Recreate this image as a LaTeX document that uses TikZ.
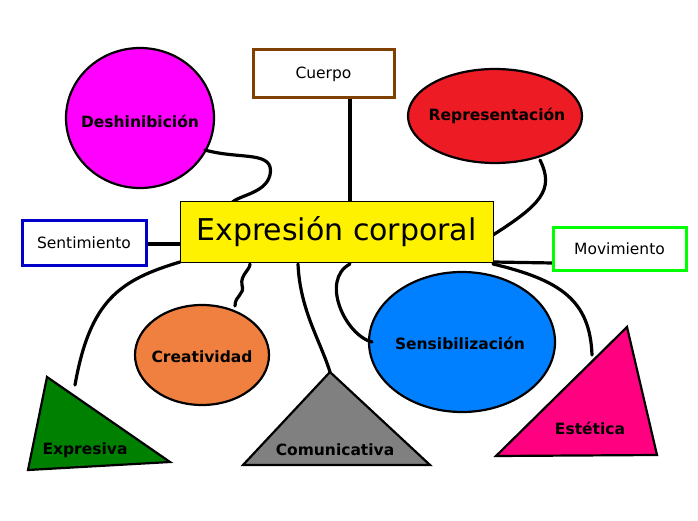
\documentclass[tikz,border=0pt]{standalone}
\usepackage{fontspec}
\setmainfont{DejaVu Sans}
\begin{document}
\begin{tikzpicture}[x=1pt,y=-1pt,
  lbl/.style={font=\bfseries\fontsize{15.5}{18}\selectfont},
  con/.style={line width=3.2pt,line cap=round},
  shp/.style={draw=black,line width=2.2pt}]
\useasboundingbox (0,0) rectangle (698,521);
% shapes
\fill[shp,fill={rgb,255:red,255;green,0;blue,255}] (140,118) ellipse [x radius=74,y radius=70];
\fill[shp,fill={rgb,255:red,237;green,28;blue,36}] (495,116) ellipse [x radius=87,y radius=47];
\fill[shp,fill={rgb,255:red,240;green,128;blue,64}] (202,355) ellipse [x radius=67,y radius=50];
\fill[shp,fill={rgb,255:red,0;green,128;blue,255}] (462,342) ellipse [x radius=93,y radius=70];
\fill[shp,fill={rgb,255:red,0;green,128;blue,0}] (47,377) -- (28,470) -- (170,462) -- cycle;
\fill[shp,fill=gray] (330,372) -- (243,465) -- (430,465) -- cycle;
\fill[shp,fill={rgb,255:red,255;green,0;blue,128}] (627,327) -- (496,456) -- (657,455) -- cycle;
% connectors
\coordinate (d1) at (205,150);
\draw[con] (d1) .. controls (240,160) and (275,150) .. (270,175) .. controls (265,195) and (235,195) .. (230,205);
\draw[con] (540,160) .. controls (555,190) and (540,205) .. (493,235);
\draw[con] (350,98) -- (350,204);
\draw[con] (146,244) -- (180,244);
\draw[con] (493,262) -- (553,263);
\draw[con] (75,385) .. controls (90,300) and (120,280) .. (180,262);
\draw[con] (235,306) .. controls (235,295) and (245,295) .. (242,285) .. controls (240,275) and (250,270) .. (250,264);
\draw[con] (298,264) .. controls (300,310) and (320,340) .. (330,372);
\draw[con] (350,264) .. controls (320,280) and (345,335) .. (372,342);
\draw[con] (493,264) .. controls (560,280) and (590,300) .. (592,355);
% boxes
\node[draw={rgb,255:red,128;green,64;blue,0},line width=3pt,fill=white,minimum width=141pt,minimum height=48pt,font=\fontsize{15.5}{18}\selectfont] (cu) at (323.5,74) {Cuerpo};
\node[fill=yellow,draw=black,line width=1pt,minimum width=313pt,minimum height=60pt] (ec) at (336.5,232) {\fontsize{30}{34}\selectfont Expresión corporal};
\node[draw={rgb,255:red,0;green,0;blue,200},line width=3pt,fill=white,minimum width=124pt,minimum height=44pt,lbl,font=\fontsize{15.5}{18}\selectfont] (se) at (84,243) {Sentimiento};
\node[draw={rgb,255:red,0;green,255;blue,0},line width=3pt,fill=white,minimum width=133pt,minimum height=42pt,font=\fontsize{15.5}{18}\selectfont] (mo) at (619.5,249) {Movimiento};
% labels
\node[lbl] (l1) at (140,121) {Deshinibición};
\node[lbl] (l2) at (497,116) {Representación};
\node[lbl] (l3) at (202,357) {Creatividad};
\node[lbl] (l4) at (460,343) {Sensibilización};
\node[lbl] (l5) at (85,450) {Expresiva};
\node[lbl] (l6) at (335,450) {Comunicativa};
\node[lbl] (l7) at (590,428) {Estética};
\end{tikzpicture}
\end{document}
